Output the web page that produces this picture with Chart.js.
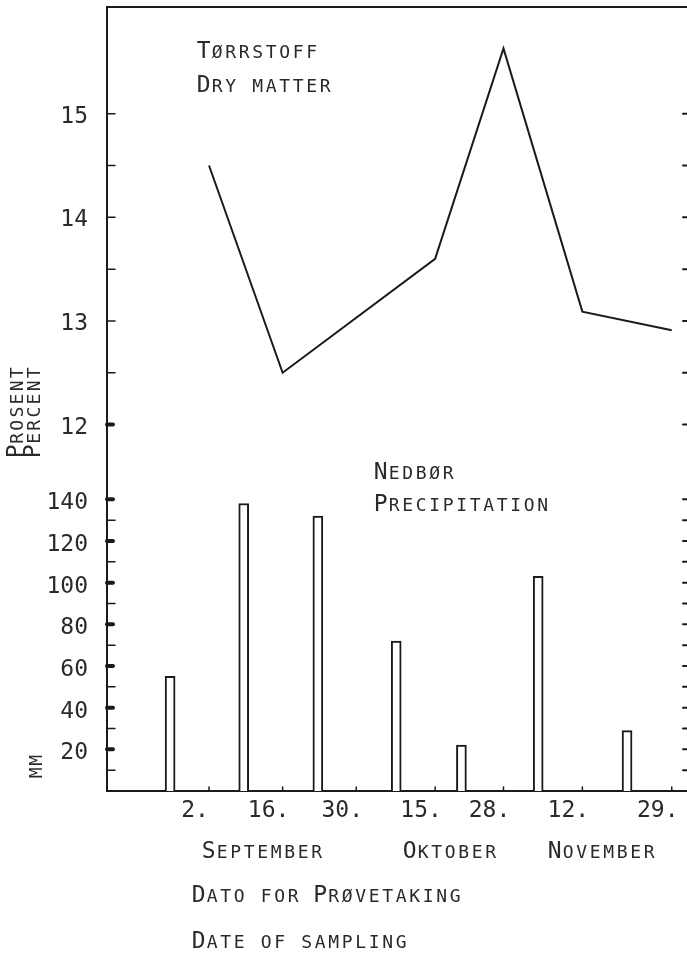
<!DOCTYPE html>
<html>
<head>
<meta charset="utf-8">
<script src="https://cdn.jsdelivr.net/npm/chart.js@4.4.1/dist/chart.umd.min.js"></script>
<style>
  html, body { margin: 0; padding: 0; background: #fff; }
  #wrap { width: 687px; height: 957px; }
</style>
</head>
<body>
<div id="wrap"><canvas id="dryChart"></canvas></div>
<script>
// sampling dates as days after 2 September
var sampleDays = [0, 14, 28, 43, 56, 71, 88];
var dayLabels = ["2.", "16.", "30.", "15.", "28.", "12.", "29."];

// dry matter, percent (no value for 30 Sep)
var dryMatter = [14.5, 12.5, null, 13.6, 15.63, 13.09, 12.91];

// precipitation per sampling interval, mm
var precipDays = [-7.4, 6.6, 20.7, 35.6, 48, 62.6, 79.5];
var precipMm = [55, 138, 132, 72, 22, 103, 29];

var pctTicks = [12, 12.5, 13, 13.5, 14, 14.5, 15];
var mmTicks = [10, 20, 30, 40, 50, 60, 70, 80, 90, 100, 110, 120, 130, 140];

var ink = "#1a1a1a";
var textInk = "#2a2a2a";
var mono = "'DejaVu Sans Mono'";
var tickFont = {family: "DejaVu Sans Mono", size: 23};

// typewriter style small caps: capitals big, lower case drawn as small capitals
function typeLine(ctx, text, x, y, pitch, big, small) {
    pitch = pitch || 13.5;
    big = big || 23;
    small = small || 18;
    ctx.textAlign = "center";
    ctx.textBaseline = "alphabetic";
    for (var i = 0; i < text.length; i++) {
        var ch = text[i];
        var upper = ch === ch.toUpperCase() && ch !== ch.toLowerCase();
        ctx.font = (upper ? big : small) + "px " + mono;
        ctx.fillText(ch.toUpperCase(), x + i * pitch + pitch / 2, y);
    }
}

function typeUp(ctx, text, x, y, pitch, big, small) {
    ctx.save();
    ctx.translate(x, y);
    ctx.rotate(-Math.PI / 2);
    typeLine(ctx, text, 0, 0, pitch, big, small);
    ctx.restore();
}

function line(ctx, x1, y1, x2, y2) {
    ctx.beginPath();
    ctx.moveTo(x1, y1);
    ctx.lineTo(x2, y2);
    ctx.stroke();
}

// no extra room for half labels at the ends of an axis
function noPadding(s) {
    s.paddingTop = 0;
    s.paddingBottom = 0;
    s.paddingLeft = 0;
    s.paddingRight = 0;
}

var frameAndTicks = {
    id: "frameAndTicks",
    afterDraw: function(chart) {
        var ctx = chart.ctx, a = chart.chartArea;
        ctx.save();
        ctx.strokeStyle = ink;
        ctx.lineCap = "round";

        // top border
        ctx.lineWidth = 2;
        line(ctx, a.left, a.top, a.right, a.top);

        ["yTop", "yLow"].forEach(function(id) {
            var s = chart.scales[id];
            s.ticks.forEach(function(t) {
                var y = s.getPixelForValue(t.value);
                var major = id === "yTop" ? t.value === 12 : t.value % 20 === 0;
                ctx.lineWidth = major ? 4 : 1.5;
                line(ctx, a.left, y, a.left + (major ? 6 : 8), y);
                ctx.lineWidth = 2;
                line(ctx, a.right - 4, y, a.right, y);
            });
        });

        var xs = chart.scales.x;
        ctx.lineWidth = 1.5;
        xs.ticks.forEach(function(t) {
            var x = xs.getPixelForValue(t.value);
            line(ctx, x, a.bottom, x, a.bottom - 4);
        });
        ctx.restore();
    }
};

var captions = {
    id: "captions",
    afterDraw: function(chart) {
        var ctx = chart.ctx;
        ctx.save();
        ctx.fillStyle = textInk;
        typeLine(ctx, "Tørrstoff", 197, 58);
        typeLine(ctx, "Dry matter", 197, 92);
        typeLine(ctx, "Nedbør", 374, 479);
        typeLine(ctx, "Precipitation", 374, 511);
        typeLine(ctx, "September", 202, 858);
        typeLine(ctx, "Oktober", 403, 858);
        typeLine(ctx, "November", 548, 858);
        typeLine(ctx, "Dato for Prøvetaking", 192, 902);
        typeLine(ctx, "Date of sampling", 192, 948);
        typeUp(ctx, "Prosent", 23, 458, 13.1);
        typeUp(ctx, "Percent", 40, 458, 13.1);
        typeUp(ctx, "mm", 42, 779, 12.5);
        ctx.restore();
    }
};

var yCommon = {
    position: "left",
    stack: "left",
    grid: {display: false, drawTicks: false},
    border: {display: true, color: ink, width: 2},
    afterFit: function(s) {
        s.width = 107;
        noPadding(s);
    }
};

var dryChart = new Chart(document.getElementById("dryChart"), {
    type: "bar",
    data: {
        datasets: [{
            type: "line",
            label: "Tørrstoff",
            data: sampleDays.map(function(d, i) { return {x: d, y: dryMatter[i]}; }),
            xAxisID: "x",
            yAxisID: "yTop",
            borderColor: ink,
            borderWidth: 2,
            pointRadius: 0,
            tension: 0,
            spanGaps: true,
            fill: false
        }, {
            type: "bar",
            label: "Nedbør",
            data: precipDays.map(function(d, i) { return {x: d, y: precipMm[i]}; }),
            xAxisID: "x",
            yAxisID: "yLow",
            backgroundColor: "#fff",
            borderColor: ink,
            borderWidth: 2,
            barThickness: 10
        }]
    },
    options: {
        responsive: true,
        maintainAspectRatio: false,
        animation: false,
        layout: {padding: {top: 7, left: 0, right: 0, bottom: 0}},
        plugins: {
            legend: {display: false},
            tooltip: {enabled: false}
        },
        scales: {
            x: {
                type: "linear",
                position: "bottom",
                offset: false,
                min: -19.4,
                max: 90.9,
                afterBuildTicks: function(s) {
                    s.ticks = sampleDays.map(function(v) { return {value: v}; });
                },
                afterFit: function(s) {
                    s.height = 166;
                    noPadding(s);
                },
                grid: {display: false, drawTicks: false},
                border: {display: true, color: ink, width: 2},
                ticks: {
                    callback: function(v, i) { return dayLabels[i]; },
                    font: tickFont,
                    color: textInk,
                    padding: 6,
                    labelOffset: -14,
                    autoSkip: false,
                    maxRotation: 0
                }
            },
            yLow: Object.assign({}, yCommon, {
                type: "linear",
                weight: 0,
                stackWeight: 325,
                min: 0,
                max: 156,
                afterBuildTicks: function(s) {
                    s.ticks = mmTicks.map(function(v) { return {value: v}; });
                },
                ticks: {
                    callback: function(v) { return v % 20 === 0 ? v : ""; },
                    font: tickFont,
                    color: textInk,
                    padding: 19,
                    labelOffset: 4,
                    autoSkip: false
                }
            }),
            yTop: Object.assign({}, yCommon, {
                type: "linear",
                weight: 1,
                stackWeight: 459,
                min: 11.6,
                max: 16.03,
                afterBuildTicks: function(s) {
                    s.ticks = pctTicks.map(function(v) { return {value: v}; });
                },
                ticks: {
                    callback: function(v) { return Number.isInteger(v) ? v : ""; },
                    font: tickFont,
                    color: textInk,
                    padding: 19,
                    labelOffset: 3,
                    autoSkip: false
                }
            })
        }
    },
    plugins: [frameAndTicks, captions]
});
</script>
</body>
</html>
